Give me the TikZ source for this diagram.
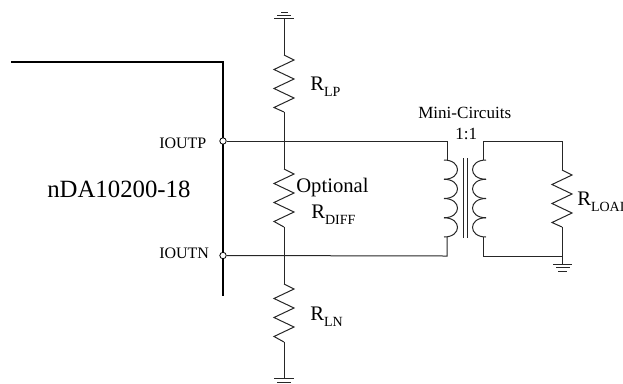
\documentclass[tikz,border=0pt]{standalone}
\usepackage{fontspec}
\setmainfont{Liberation Serif}
\usepackage{tikz}
\usetikzlibrary{positioning,calc}
\tikzset{wire/.style={black!85,line width=0.75pt,line join=miter},
  block/.style={black,line width=0.95pt},
  port/.style={circle,draw=black,fill=white,line width=0.6pt,inner sep=0pt,minimum size=4.8pt},
  lbl/.style={anchor=base west,inner sep=0pt,font=\fontsize{15.5pt}{18pt}\selectfont},
  portlbl/.style={anchor=base west,inner sep=0pt,font=\fontsize{12pt}{14pt}\selectfont}}
\newcommand{\rname}[1]{R\raisebox{-5pt}{\fontsize{10.5pt}{12pt}\selectfont #1}}
\newcommand{\zigres}[2]{\draw[wire] (#1) -- ++(10,5) -- ++(-20,9.5) -- ++(20,9.5) -- ++(-20,9.5) -- ++(20,9.5) -- ++(-20,9.5) -- (#2);}

\begin{document}
\begin{tikzpicture}[x=0.75pt,y=-0.75pt]
\useasboundingbox (0,0) rectangle (623,383);

% junctions and resistor ends
\coordinate (gndtop) at (284,18);
\coordinate (rlpa) at (284,55);
\coordinate (rlpb) at (284,112);
\coordinate (rdiffa) at (284,169);
\coordinate (rdiffb) at (284,227);
\coordinate (rlna) at (284,284);
\coordinate (rlnb) at (284,342);
\coordinate (gndbot) at (284,378);
\coordinate (blockl) at (11,62);
\coordinate (blockc) at (223,62);
\coordinate (blockb) at (223,296);
\coordinate (pa) at (447,141);
\coordinate (pb) at (447,160);
\coordinate (pc) at (447,237);
\coordinate (pd) at (447,256);
\coordinate (sa) at (483,141);
\coordinate (sb) at (483,160);
\coordinate (sc) at (483,237);
\coordinate (sd) at (483,256);
\coordinate (ta) at (562,141);
\coordinate (rloada) at (562,170);
\coordinate (rloadb) at (562,227);
\coordinate (td) at (562,256);
\coordinate (gndr) at (562,264);

\draw[block] (blockl) -- (blockc) -- (blockb);

\node[port] (iop) at (223,141) {};
\node[port] (ion) at (223,255.5) {};

\draw[wire] (iop) -- (pa) -- (pb);
\draw[wire] (ion) -- (pd) -- (pc);
\draw[wire] (sb) -- (sa) -- (ta) -- (rloada);
\draw[wire] (sc) -- (sd) -- (td) -- (rloadb);
\draw[wire] (td) -- (gndr);
\draw[wire] (gndtop) -- (rlpa);
\draw[wire] (rlpb) -- (rdiffa);
\draw[wire] (rdiffb) -- (rlna);
\draw[wire] (rlnb) -- (gndbot);

\zigres{rlpa}{rlpb}
\zigres{rdiffa}{rdiffb}
\zigres{rlna}{rlnb}
\zigres{rloada}{rloadb}

% coils
\foreach \y in {160,179.25,198.5,217.75} {
  \draw[wire] (444,\y+19.25) .. controls (462,\y+19.25) and (462,\y) .. (444,\y);
  \draw[wire] (486,\y+19.25) .. controls (468,\y+19.25) and (468,\y) .. (486,\y);
}
\draw[wire] (463,158) -- (463,238);
\draw[wire] (467,158) -- (467,238);

% grounds
\draw[wire] (274,18) -- (294,18);
\draw[wire] (277,15) -- (291,15);
\draw[wire] (281,12) -- (288,12);
\draw[wire] (553,264) -- (572,264);
\draw[wire] (556,267.5) -- (570,267.5);
\draw[wire] (558,271) -- (567,271);
\draw[wire] (274,378) -- (294,378);
\draw[wire] (277,382) -- (291,382);

\node[lbl,font=\fontsize{18.6pt}{22pt}\selectfont] (dac) at (47,197) {nDA10200-18};
\node[portlbl] (ioutp) at (159,148) {IOUTP};
\node[portlbl] (ioutn) at (159,258) {IOUTN};
\node[portlbl,font=\fontsize{12.8pt}{15pt}\selectfont] (mini) at (418,118) {Mini-Circuits};
\node[portlbl,font=\fontsize{12.8pt}{15pt}\selectfont] (ratio) at (455,139) {1:1};
\node[lbl] (opt) at (296,192) {Optional};
\node[lbl] (rlp) at (310,90) {\rname{LP}};
\node[lbl] (rdiff) at (311,218) {\rname{DIFF}};
\node[lbl] (rln) at (310,320) {\rname{LN}};
\node[lbl] (rload) at (577,205) {\rname{LOAI}};

\end{tikzpicture}
\end{document}
